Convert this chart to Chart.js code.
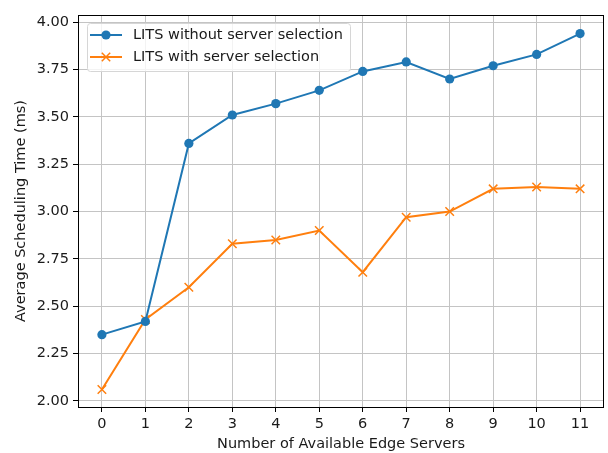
<!DOCTYPE html>
<html>
<head>
<meta charset="utf-8">
<script src="https://cdn.jsdelivr.net/npm/chart.js@4"></script>
<style>
  html, body { margin: 0; padding: 0; background: #fff; }
  #wrap { width: 608px; height: 453px; }
</style>
</head>
<body>
<div id="wrap"><canvas id="chart" width="608" height="453"></canvas></div>
<script>
const servers = [0, 1, 2, 3, 4, 5, 6, 7, 8, 9, 10, 11];
const withoutSelection = [2.35, 2.42, 3.36, 3.51, 3.57, 3.64, 3.74, 3.79, 3.70, 3.77, 3.83, 3.94];
const withSelection = [2.06, 2.43, 2.60, 2.83, 2.85, 2.90, 2.68, 2.97, 3.00, 3.12, 3.13, 3.12];
const yTicks = [2.0, 2.25, 2.5, 2.75, 3.0, 3.25, 3.5, 3.75, 4.0];
const seriesLabels = ["LITS without server selection", "LITS with server selection"];

const font = "DejaVu Sans";
const fontSize = 14.5;
const blue = "#1f77b4";
const orange = "#ff7f0e";
const gridColor = "#c4c4c4";
const textColor = "#1a1a1a";

const toPoints = (ys) => servers.map((x, i) => ({ x, y: ys[i] }));

// full box around the plot, like matplotlib spines
const frame = {
  id: "frame",
  afterDatasetsDraw(chart) {
    const { ctx, chartArea: a } = chart;
    ctx.save();
    ctx.strokeStyle = "#000";
    ctx.lineWidth = 1;
    ctx.strokeRect(Math.round(a.left) + 0.5, Math.round(a.top) + 0.5,
      Math.round(a.right - a.left) - 1, Math.round(a.bottom - a.top));
    ctx.restore();
  },
};

// legend box inside the axes, upper left
const innerLegend = {
  id: "innerLegend",
  afterDraw(chart) {
    const { ctx } = chart;
    const bx = 87, by = 23, bw = 263, bh = 48;
    ctx.save();
    ctx.beginPath();
    ctx.roundRect(bx + 0.5, by + 0.5, bw, bh, 3);
    ctx.fillStyle = "rgba(255,255,255,0.8)";
    ctx.fill();
    ctx.strokeStyle = "#d6d6d6";
    ctx.lineWidth = 1;
    ctx.stroke();

    chart.data.datasets.forEach((ds, i) => {
      const y = 35 + i * 22;
      ctx.strokeStyle = ds.borderColor;
      ctx.lineWidth = 2;
      ctx.beginPath();
      ctx.moveTo(90, y);
      ctx.lineTo(122, y);
      ctx.stroke();
      if (ds.pointStyle === "circle") {
        ctx.fillStyle = ds.borderColor;
        ctx.beginPath();
        ctx.arc(106, y, 4.6, 0, Math.PI * 2);
        ctx.fill();
      } else {
        const h = 4.2;
        ctx.lineWidth = 1.5;
        ctx.beginPath();
        ctx.moveTo(106 - h, y - h); ctx.lineTo(106 + h, y + h);
        ctx.moveTo(106 - h, y + h); ctx.lineTo(106 + h, y - h);
        ctx.stroke();
      }
      ctx.fillStyle = textColor;
      ctx.font = `${fontSize}px "${font}"`;
      ctx.textBaseline = "middle";
      ctx.fillText(ds.label, 133, y + 0.5);
    });
    ctx.restore();
  },
};

new Chart(document.getElementById("chart"), {
  type: "line",
  data: {
    datasets: [
      {
        label: seriesLabels[0],
        data: toPoints(withoutSelection),
        borderColor: blue,
        backgroundColor: blue,
        borderWidth: 2,
        pointStyle: "circle",
        pointRadius: 4.6,
        pointBorderWidth: 0,
        tension: 0,
      },
      {
        label: seriesLabels[1],
        data: toPoints(withSelection),
        borderColor: orange,
        backgroundColor: orange,
        borderWidth: 2,
        pointStyle: "crossRot",
        pointRadius: 6,
        pointBorderWidth: 1.5,
        tension: 0,
      },
    ],
  },
  options: {
    responsive: false,
    animation: false,
    layout: { autoPadding: false, padding: { left: 0, top: 15, right: 4, bottom: 0 } },
    plugins: { legend: { display: false }, tooltip: { enabled: false } },
    scales: {
      x: {
        type: "linear",
        min: -0.55,
        max: 11.55,
        afterBuildTicks: (s) => { s.ticks = servers.map((v) => ({ value: v })); },
        afterFit: (s) => {
          s.height = 46;
          s.paddingLeft = 0;
          s.paddingRight = 0;
        },
        grid: { color: gridColor, lineWidth: 1, tickColor: "#000", tickLength: 5 },
        border: { display: false },
        ticks: { color: textColor, padding: 4, maxRotation: 0, font: { family: font, size: fontSize } },
        title: {
          display: true,
          text: "Number of Available Edge Servers",
          color: textColor,
          font: { family: font, size: fontSize },
          padding: { top: 0, bottom: 0 },
        },
      },
      y: {
        min: 1.968,
        max: 4.038,
        afterBuildTicks: (s) => { s.ticks = yTicks.map((v) => ({ value: v })); },
        afterFit: (s) => {
          s.width = 78;
          s.paddingTop = 0;
          s.paddingBottom = 0;
        },
        grid: { color: gridColor, lineWidth: 1, tickColor: "#000", tickLength: 5 },
        border: { display: false },
        ticks: {
          color: textColor,
          padding: 4,
          font: { family: font, size: fontSize },
          callback: (v) => Number(v).toFixed(2),
        },
        title: {
          display: true,
          text: "Average Scheduling Time (ms)",
          color: textColor,
          font: { family: font, size: fontSize },
          padding: { top: 13, bottom: 0 },
        },
      },
    },
  },
  plugins: [frame, innerLegend],
});
</script>
</body>
</html>
